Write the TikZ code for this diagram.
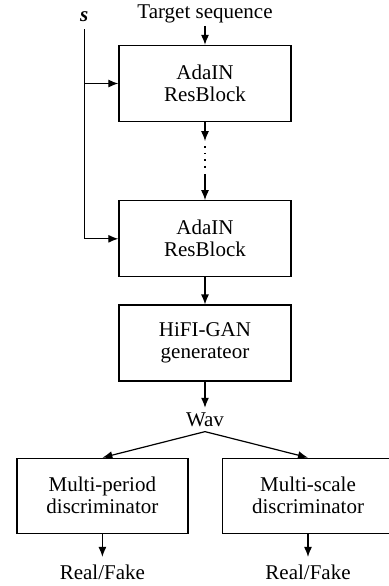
\documentclass[tikz,border=0pt]{standalone}
\usepackage{fontspec}
\setmainfont{Liberation Serif}
\usetikzlibrary{positioning,arrows.meta}

\begin{document}
\begin{tikzpicture}[
  x=1pt, y=1pt,
  font=\fontsize{10.5}{11}\selectfont,
  blk/.style={draw, line width=0.65pt, minimum width=86pt,
              minimum height=38pt, align=center, inner sep=1pt},
  disc/.style={blk, minimum width=85.5pt, minimum height=37.5pt},
  lbl/.style={inner sep=1pt},
  arr/.style={-{Latex[length=5pt,width=4pt]}, line width=0.6pt},
  ln/.style={line width=0.6pt},
  dots/.style={line width=0.8pt, dash pattern=on 0.8pt off 2.5pt}
]
  \useasboundingbox (0,0) rectangle (194.5,-293);

  % Generator column
  \node[blk] (ada1) at (102.5,-41.75) {AdaIN\\ResBlock};
  \node[lbl, above=9.5pt of ada1] (tgt) {Target sequence};
  \coordinate[below=9.5pt of ada1] (d1);
  \coordinate[below=16.5pt of d1] (d2);
  \node[blk, below=39pt of ada1] (ada2) {AdaIN\\ResBlock};
  \node[blk, below=13.5pt of ada2] (hifi) {HiFI-GAN\\generateor};
  \node[inner sep=2.25pt, below=13pt of hifi] (wav) {Wav};

  % Style input
  \node[lbl] (s) at (42.15,-8.3) {\textbf{\textit{s}}};
  \coordinate[below=2.5pt of s] (stop);

  % Discriminators
  \node[disc, below=13pt of wav, xshift=-51.3pt] (mpd) {Multi-period\\discriminator};
  \node[disc, below=13pt of wav, xshift=51.5pt] (msd) {Multi-scale\\discriminator};
  \node[lbl, below=14.5pt of mpd] (rf1) {Real/Fake};
  \node[lbl, below=14.5pt of msd] (rf2) {Real/Fake};

  % Connectors
  \draw[arr] (tgt) -- (ada1);
  \draw[arr] (ada1) -- (d1);
  \draw[dots, shorten <=2.5pt, shorten >=3pt] (d1) -- (d2);
  \draw[arr] (d2) -- (ada2);
  \draw[arr] (ada2) -- (hifi);
  \draw[arr] (hifi) -- (wav);
  \draw[ln] (stop) -- (ada2.west -| stop);
  \draw[arr] (ada1.west -| stop) -- (ada1.west);
  \draw[arr] (ada2.west -| stop) -- (ada2.west);
  \draw[arr] (wav.south) -- (mpd.north);
  \draw[arr] (wav.south) -- (msd.north);
  \draw[arr, shorten >=3pt] (mpd) -- (rf1);
  \draw[arr, shorten >=3pt] (msd) -- (rf2);
\end{tikzpicture}
\end{document}
